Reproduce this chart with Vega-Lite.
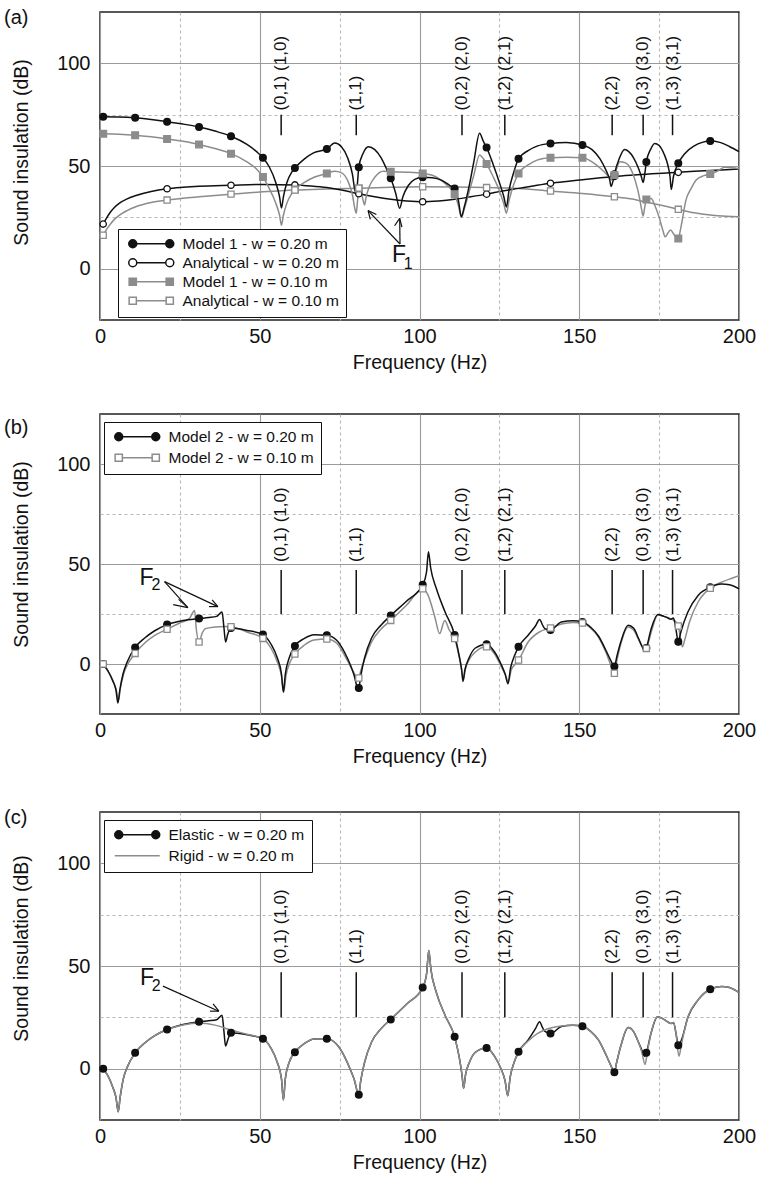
{
  "$schema": "https://vega.github.io/schema/vega-lite/v6.json",
  "padding": {"top": 7, "left": 3, "right": 5, "bottom": 2},
  "spacing": 40,
  "resolve": {"scale": {"stroke": "independent", "fill": "independent", "shape": "independent"}, "legend": {"stroke": "independent", "fill": "independent", "shape": "independent"}},
  "config": {
    "font": "Liberation Sans",
    "view": {"stroke": "#222", "strokeWidth": 1.5},
    "axis": {"labelFont": "Liberation Sans", "titleFont": "Liberation Sans", "labelFontSize": 20, "titleFontSize": 19.5, "titleFontWeight": "normal", "labelColor": "#111", "titleColor": "#111", "domain": false, "ticks": false, "tickSize": 0, "gridOpacity": 1, "gridWidth": 1.1, "labelFlush": false, "labelOverlap": false},
    "title": {"font": "Liberation Sans", "fontSize": 20, "fontWeight": "normal", "color": "#111", "anchor": "start", "frame": "bounds"}
  },
  "datasets": {
    "modes_a": [
      {"f": 56.7, "label": "(0,1) (1,0)", "lo": 65, "hi": 75, "ty": 77},
      {"f": 80.2, "label": "(1,1)", "lo": 65, "hi": 75, "ty": 77},
      {"f": 113.3, "label": "(0,2) (2,0)", "lo": 65, "hi": 75, "ty": 77},
      {"f": 126.7, "label": "(1,2) (2,1)", "lo": 65, "hi": 75, "ty": 77},
      {"f": 160.3, "label": "(2,2)", "lo": 65, "hi": 75, "ty": 77},
      {"f": 170, "label": "(0,3) (3,0)", "lo": 65, "hi": 75, "ty": 77},
      {"f": 179.2, "label": "(1,3) (3,1)", "lo": 65, "hi": 75, "ty": 77}
    ],
    "modes_bc": [
      {"f": 56.7, "label": "(0,1) (1,0)", "lo": 25, "hi": 47, "ty": 51},
      {"f": 80.2, "label": "(1,1)", "lo": 25, "hi": 47, "ty": 51},
      {"f": 113.3, "label": "(0,2) (2,0)", "lo": 25, "hi": 47, "ty": 51},
      {"f": 126.7, "label": "(1,2) (2,1)", "lo": 25, "hi": 47, "ty": 51},
      {"f": 160.3, "label": "(2,2)", "lo": 25, "hi": 47, "ty": 51},
      {"f": 170, "label": "(0,3) (3,0)", "lo": 25, "hi": 47, "ty": 51},
      {"f": 179.2, "label": "(1,3) (3,1)", "lo": 25, "hi": 47, "ty": 51}
    ],
    "a_curves": [
      {"s":"Analytical - w = 0.10 m","f":1,"d":16.3},{"s":"Analytical - w = 0.10 m","f":2,"d":19},{"s":"Analytical - w = 0.10 m","f":3,"d":21.2},{"s":"Analytical - w = 0.10 m","f":4.5,"d":24},{"s":"Analytical - w = 0.10 m","f":6,"d":26},{"s":"Analytical - w = 0.10 m","f":8.5,"d":28.3},{"s":"Analytical - w = 0.10 m","f":11,"d":30},{"s":"Analytical - w = 0.10 m","f":16,"d":32.2},{"s":"Analytical - w = 0.10 m","f":21,"d":33.4},{"s":"Analytical - w = 0.10 m","f":26,"d":34.3},{"s":"Analytical - w = 0.10 m","f":31,"d":35},{"s":"Analytical - w = 0.10 m","f":41,"d":36.3},{"s":"Analytical - w = 0.10 m","f":51,"d":37.4},{"s":"Analytical - w = 0.10 m","f":61,"d":38.3},{"s":"Analytical - w = 0.10 m","f":71,"d":38.8},{"s":"Analytical - w = 0.10 m","f":81,"d":39.2},{"s":"Analytical - w = 0.10 m","f":91,"d":39.6},{"s":"Analytical - w = 0.10 m","f":101,"d":39.9},{"s":"Analytical - w = 0.10 m","f":111,"d":39.8},{"s":"Analytical - w = 0.10 m","f":121,"d":39.5},{"s":"Analytical - w = 0.10 m","f":131,"d":39.1},{"s":"Analytical - w = 0.10 m","f":141,"d":37.8},{"s":"Analytical - w = 0.10 m","f":151,"d":36.6},{"s":"Analytical - w = 0.10 m","f":161,"d":35},{"s":"Analytical - w = 0.10 m","f":166,"d":34},{"s":"Analytical - w = 0.10 m","f":171,"d":32.4},{"s":"Analytical - w = 0.10 m","f":176,"d":30.8},{"s":"Analytical - w = 0.10 m","f":181,"d":28.9},{"s":"Analytical - w = 0.10 m","f":186,"d":27.2},{"s":"Analytical - w = 0.10 m","f":191,"d":26.1},{"s":"Analytical - w = 0.10 m","f":196,"d":25.5},{"s":"Analytical - w = 0.10 m","f":200,"d":25.3},
      {"s":"Analytical - w = 0.20 m","f":1,"d":21.7},{"s":"Analytical - w = 0.20 m","f":2,"d":24.5},{"s":"Analytical - w = 0.20 m","f":3,"d":27},{"s":"Analytical - w = 0.20 m","f":4.5,"d":29.8},{"s":"Analytical - w = 0.20 m","f":6,"d":31.8},{"s":"Analytical - w = 0.20 m","f":8.5,"d":34},{"s":"Analytical - w = 0.20 m","f":11,"d":35.5},{"s":"Analytical - w = 0.20 m","f":16,"d":37.6},{"s":"Analytical - w = 0.20 m","f":21,"d":38.9},{"s":"Analytical - w = 0.20 m","f":26,"d":39.6},{"s":"Analytical - w = 0.20 m","f":31,"d":40.1},{"s":"Analytical - w = 0.20 m","f":41,"d":40.6},{"s":"Analytical - w = 0.20 m","f":51,"d":41},{"s":"Analytical - w = 0.20 m","f":61,"d":40.8},{"s":"Analytical - w = 0.20 m","f":66,"d":40.3},{"s":"Analytical - w = 0.20 m","f":71,"d":39.5},{"s":"Analytical - w = 0.20 m","f":76,"d":38.2},{"s":"Analytical - w = 0.20 m","f":81,"d":36.5},{"s":"Analytical - w = 0.20 m","f":86,"d":35},{"s":"Analytical - w = 0.20 m","f":91,"d":33.8},{"s":"Analytical - w = 0.20 m","f":96,"d":33},{"s":"Analytical - w = 0.20 m","f":101,"d":32.6},{"s":"Analytical - w = 0.20 m","f":106,"d":33},{"s":"Analytical - w = 0.20 m","f":111,"d":33.8},{"s":"Analytical - w = 0.20 m","f":116,"d":35},{"s":"Analytical - w = 0.20 m","f":121,"d":36.3},{"s":"Analytical - w = 0.20 m","f":126,"d":37.8},{"s":"Analytical - w = 0.20 m","f":131,"d":39.1},{"s":"Analytical - w = 0.20 m","f":136,"d":40.4},{"s":"Analytical - w = 0.20 m","f":141,"d":41.6},{"s":"Analytical - w = 0.20 m","f":146,"d":42.5},{"s":"Analytical - w = 0.20 m","f":151,"d":43.3},{"s":"Analytical - w = 0.20 m","f":156,"d":44.1},{"s":"Analytical - w = 0.20 m","f":161,"d":44.9},{"s":"Analytical - w = 0.20 m","f":166,"d":45.5},{"s":"Analytical - w = 0.20 m","f":171,"d":46},{"s":"Analytical - w = 0.20 m","f":176,"d":46.5},{"s":"Analytical - w = 0.20 m","f":181,"d":46.9},{"s":"Analytical - w = 0.20 m","f":186,"d":47.4},{"s":"Analytical - w = 0.20 m","f":191,"d":47.8},{"s":"Analytical - w = 0.20 m","f":196,"d":48.2},{"s":"Analytical - w = 0.20 m","f":200,"d":48.5},
      {"s":"Model 1 - w = 0.10 m","f":1,"d":65.7},{"s":"Model 1 - w = 0.10 m","f":6,"d":65.5},{"s":"Model 1 - w = 0.10 m","f":11,"d":65},{"s":"Model 1 - w = 0.10 m","f":16,"d":64.2},{"s":"Model 1 - w = 0.10 m","f":21,"d":63.2},{"s":"Model 1 - w = 0.10 m","f":26,"d":62},{"s":"Model 1 - w = 0.10 m","f":31,"d":60.5},{"s":"Model 1 - w = 0.10 m","f":36,"d":58.5},{"s":"Model 1 - w = 0.10 m","f":41,"d":56},{"s":"Model 1 - w = 0.10 m","f":46,"d":52},{"s":"Model 1 - w = 0.10 m","f":49,"d":48.5},{"s":"Model 1 - w = 0.10 m","f":51,"d":44.6},{"s":"Model 1 - w = 0.10 m","f":53,"d":39},{"s":"Model 1 - w = 0.10 m","f":55,"d":32},{"s":"Model 1 - w = 0.10 m","f":56.2,"d":26},{"s":"Model 1 - w = 0.10 m","f":56.8,"d":21.2},{"s":"Model 1 - w = 0.10 m","f":57.4,"d":26},{"s":"Model 1 - w = 0.10 m","f":58.5,"d":32},{"s":"Model 1 - w = 0.10 m","f":60,"d":36.5},{"s":"Model 1 - w = 0.10 m","f":61,"d":38.5},{"s":"Model 1 - w = 0.10 m","f":64,"d":42},{"s":"Model 1 - w = 0.10 m","f":67,"d":44.5},{"s":"Model 1 - w = 0.10 m","f":71,"d":46.4},{"s":"Model 1 - w = 0.10 m","f":73.5,"d":47.5},{"s":"Model 1 - w = 0.10 m","f":75.5,"d":46.8},{"s":"Model 1 - w = 0.10 m","f":77.5,"d":43},{"s":"Model 1 - w = 0.10 m","f":79,"d":36},{"s":"Model 1 - w = 0.10 m","f":79.8,"d":29},{"s":"Model 1 - w = 0.10 m","f":80.2,"d":27},{"s":"Model 1 - w = 0.10 m","f":80.6,"d":33},{"s":"Model 1 - w = 0.10 m","f":81,"d":39},{"s":"Model 1 - w = 0.10 m","f":81.8,"d":37},{"s":"Model 1 - w = 0.10 m","f":82.4,"d":33},{"s":"Model 1 - w = 0.10 m","f":82.8,"d":31},{"s":"Model 1 - w = 0.10 m","f":83.3,"d":35},{"s":"Model 1 - w = 0.10 m","f":84.3,"d":40},{"s":"Model 1 - w = 0.10 m","f":86,"d":44.5},{"s":"Model 1 - w = 0.10 m","f":88.6,"d":47.5},{"s":"Model 1 - w = 0.10 m","f":91,"d":47.2},{"s":"Model 1 - w = 0.10 m","f":96,"d":47},{"s":"Model 1 - w = 0.10 m","f":101,"d":46.4},{"s":"Model 1 - w = 0.10 m","f":104,"d":45.5},{"s":"Model 1 - w = 0.10 m","f":106,"d":44},{"s":"Model 1 - w = 0.10 m","f":108,"d":41.5},{"s":"Model 1 - w = 0.10 m","f":110,"d":38.5},{"s":"Model 1 - w = 0.10 m","f":111,"d":36.3},{"s":"Model 1 - w = 0.10 m","f":112.2,"d":30.5},{"s":"Model 1 - w = 0.10 m","f":113.1,"d":25},{"s":"Model 1 - w = 0.10 m","f":114,"d":29},{"s":"Model 1 - w = 0.10 m","f":115.3,"d":36},{"s":"Model 1 - w = 0.10 m","f":117,"d":45.5},{"s":"Model 1 - w = 0.10 m","f":118.8,"d":55.4},{"s":"Model 1 - w = 0.10 m","f":120,"d":53.5},{"s":"Model 1 - w = 0.10 m","f":121,"d":51},{"s":"Model 1 - w = 0.10 m","f":123,"d":45},{"s":"Model 1 - w = 0.10 m","f":125,"d":38},{"s":"Model 1 - w = 0.10 m","f":126.4,"d":31.5},{"s":"Model 1 - w = 0.10 m","f":127.2,"d":27},{"s":"Model 1 - w = 0.10 m","f":128,"d":33},{"s":"Model 1 - w = 0.10 m","f":129.5,"d":41},{"s":"Model 1 - w = 0.10 m","f":131,"d":46.4},{"s":"Model 1 - w = 0.10 m","f":134,"d":50.5},{"s":"Model 1 - w = 0.10 m","f":137,"d":53},{"s":"Model 1 - w = 0.10 m","f":141,"d":54},{"s":"Model 1 - w = 0.10 m","f":146,"d":54.3},{"s":"Model 1 - w = 0.10 m","f":151,"d":54},{"s":"Model 1 - w = 0.10 m","f":154,"d":52},{"s":"Model 1 - w = 0.10 m","f":156.5,"d":49},{"s":"Model 1 - w = 0.10 m","f":158.5,"d":46},{"s":"Model 1 - w = 0.10 m","f":159.6,"d":44},{"s":"Model 1 - w = 0.10 m","f":160,"d":43.2},{"s":"Model 1 - w = 0.10 m","f":160.5,"d":44.2},{"s":"Model 1 - w = 0.10 m","f":161,"d":45.6},{"s":"Model 1 - w = 0.10 m","f":162.7,"d":52.1},{"s":"Model 1 - w = 0.10 m","f":164.5,"d":51.5},{"s":"Model 1 - w = 0.10 m","f":166,"d":49},{"s":"Model 1 - w = 0.10 m","f":167.5,"d":43},{"s":"Model 1 - w = 0.10 m","f":168.8,"d":35},{"s":"Model 1 - w = 0.10 m","f":169.5,"d":29},{"s":"Model 1 - w = 0.10 m","f":170,"d":25.6},{"s":"Model 1 - w = 0.10 m","f":170.5,"d":30},{"s":"Model 1 - w = 0.10 m","f":171,"d":33.7},{"s":"Model 1 - w = 0.10 m","f":172.5,"d":34.2},{"s":"Model 1 - w = 0.10 m","f":173.6,"d":31},{"s":"Model 1 - w = 0.10 m","f":175,"d":25},{"s":"Model 1 - w = 0.10 m","f":176.2,"d":18.5},{"s":"Model 1 - w = 0.10 m","f":176.9,"d":15.5},{"s":"Model 1 - w = 0.10 m","f":177.8,"d":17.5},{"s":"Model 1 - w = 0.10 m","f":178.6,"d":18.8},{"s":"Model 1 - w = 0.10 m","f":179.5,"d":17},{"s":"Model 1 - w = 0.10 m","f":180.4,"d":15},{"s":"Model 1 - w = 0.10 m","f":181,"d":14.7},{"s":"Model 1 - w = 0.10 m","f":181.8,"d":20},{"s":"Model 1 - w = 0.10 m","f":183.4,"d":33.4},{"s":"Model 1 - w = 0.10 m","f":185,"d":39},{"s":"Model 1 - w = 0.10 m","f":186.6,"d":43.2},{"s":"Model 1 - w = 0.10 m","f":189,"d":45.3},{"s":"Model 1 - w = 0.10 m","f":191,"d":46.1},{"s":"Model 1 - w = 0.10 m","f":193,"d":47.3},{"s":"Model 1 - w = 0.10 m","f":195.5,"d":49.4},{"s":"Model 1 - w = 0.10 m","f":198,"d":49.2},{"s":"Model 1 - w = 0.10 m","f":200,"d":48.7},
      {"s":"Model 1 - w = 0.20 m","f":1,"d":74},{"s":"Model 1 - w = 0.20 m","f":6,"d":73.9},{"s":"Model 1 - w = 0.20 m","f":11,"d":73.5},{"s":"Model 1 - w = 0.20 m","f":16,"d":72.7},{"s":"Model 1 - w = 0.20 m","f":21,"d":71.5},{"s":"Model 1 - w = 0.20 m","f":26,"d":70.4},{"s":"Model 1 - w = 0.20 m","f":31,"d":69},{"s":"Model 1 - w = 0.20 m","f":36,"d":67},{"s":"Model 1 - w = 0.20 m","f":41,"d":64.5},{"s":"Model 1 - w = 0.20 m","f":46,"d":60.5},{"s":"Model 1 - w = 0.20 m","f":49,"d":57},{"s":"Model 1 - w = 0.20 m","f":51,"d":54},{"s":"Model 1 - w = 0.20 m","f":53,"d":49.5},{"s":"Model 1 - w = 0.20 m","f":55,"d":42},{"s":"Model 1 - w = 0.20 m","f":56.2,"d":35},{"s":"Model 1 - w = 0.20 m","f":56.8,"d":29.5},{"s":"Model 1 - w = 0.20 m","f":57.4,"d":35},{"s":"Model 1 - w = 0.20 m","f":58.5,"d":42},{"s":"Model 1 - w = 0.20 m","f":60,"d":47},{"s":"Model 1 - w = 0.20 m","f":61,"d":49},{"s":"Model 1 - w = 0.20 m","f":64,"d":53.5},{"s":"Model 1 - w = 0.20 m","f":67,"d":56.5},{"s":"Model 1 - w = 0.20 m","f":71,"d":58.3},{"s":"Model 1 - w = 0.20 m","f":73.5,"d":61.2},{"s":"Model 1 - w = 0.20 m","f":75.5,"d":59.5},{"s":"Model 1 - w = 0.20 m","f":77.5,"d":54},{"s":"Model 1 - w = 0.20 m","f":79,"d":46},{"s":"Model 1 - w = 0.20 m","f":79.8,"d":38},{"s":"Model 1 - w = 0.20 m","f":80.2,"d":36.5},{"s":"Model 1 - w = 0.20 m","f":80.6,"d":42},{"s":"Model 1 - w = 0.20 m","f":81,"d":49.4},{"s":"Model 1 - w = 0.20 m","f":82.3,"d":56},{"s":"Model 1 - w = 0.20 m","f":84,"d":59.4},{"s":"Model 1 - w = 0.20 m","f":86,"d":58},{"s":"Model 1 - w = 0.20 m","f":88,"d":54},{"s":"Model 1 - w = 0.20 m","f":90,"d":47.5},{"s":"Model 1 - w = 0.20 m","f":91,"d":44},{"s":"Model 1 - w = 0.20 m","f":92.5,"d":37},{"s":"Model 1 - w = 0.20 m","f":93.8,"d":29.4},{"s":"Model 1 - w = 0.20 m","f":94.8,"d":35},{"s":"Model 1 - w = 0.20 m","f":96.5,"d":40.5},{"s":"Model 1 - w = 0.20 m","f":98.5,"d":43.5},{"s":"Model 1 - w = 0.20 m","f":101,"d":44.5},{"s":"Model 1 - w = 0.20 m","f":104,"d":44.3},{"s":"Model 1 - w = 0.20 m","f":107,"d":43},{"s":"Model 1 - w = 0.20 m","f":109.5,"d":40.5},{"s":"Model 1 - w = 0.20 m","f":111,"d":39},{"s":"Model 1 - w = 0.20 m","f":112.2,"d":33},{"s":"Model 1 - w = 0.20 m","f":113.1,"d":25.3},{"s":"Model 1 - w = 0.20 m","f":114,"d":30},{"s":"Model 1 - w = 0.20 m","f":115.5,"d":40},{"s":"Model 1 - w = 0.20 m","f":117,"d":52},{"s":"Model 1 - w = 0.20 m","f":118.8,"d":66},{"s":"Model 1 - w = 0.20 m","f":120,"d":62},{"s":"Model 1 - w = 0.20 m","f":121,"d":59},{"s":"Model 1 - w = 0.20 m","f":123,"d":51},{"s":"Model 1 - w = 0.20 m","f":125,"d":42},{"s":"Model 1 - w = 0.20 m","f":126.4,"d":35},{"s":"Model 1 - w = 0.20 m","f":127.2,"d":30},{"s":"Model 1 - w = 0.20 m","f":128,"d":38},{"s":"Model 1 - w = 0.20 m","f":129.5,"d":47},{"s":"Model 1 - w = 0.20 m","f":131,"d":53.5},{"s":"Model 1 - w = 0.20 m","f":134,"d":57.5},{"s":"Model 1 - w = 0.20 m","f":137,"d":59.8},{"s":"Model 1 - w = 0.20 m","f":141,"d":61},{"s":"Model 1 - w = 0.20 m","f":146,"d":61.5},{"s":"Model 1 - w = 0.20 m","f":151,"d":60.2},{"s":"Model 1 - w = 0.20 m","f":154,"d":58},{"s":"Model 1 - w = 0.20 m","f":156.5,"d":53.5},{"s":"Model 1 - w = 0.20 m","f":158.5,"d":47.5},{"s":"Model 1 - w = 0.20 m","f":159.5,"d":43.5},{"s":"Model 1 - w = 0.20 m","f":160,"d":40},{"s":"Model 1 - w = 0.20 m","f":160.6,"d":43},{"s":"Model 1 - w = 0.20 m","f":161,"d":46},{"s":"Model 1 - w = 0.20 m","f":162.5,"d":53.5},{"s":"Model 1 - w = 0.20 m","f":164.2,"d":58},{"s":"Model 1 - w = 0.20 m","f":165.5,"d":57},{"s":"Model 1 - w = 0.20 m","f":167,"d":54},{"s":"Model 1 - w = 0.20 m","f":168.5,"d":49},{"s":"Model 1 - w = 0.20 m","f":169.4,"d":45},{"s":"Model 1 - w = 0.20 m","f":170,"d":42},{"s":"Model 1 - w = 0.20 m","f":170.5,"d":46},{"s":"Model 1 - w = 0.20 m","f":171,"d":52},{"s":"Model 1 - w = 0.20 m","f":172.3,"d":58},{"s":"Model 1 - w = 0.20 m","f":173.6,"d":61},{"s":"Model 1 - w = 0.20 m","f":175,"d":60},{"s":"Model 1 - w = 0.20 m","f":176.5,"d":56},{"s":"Model 1 - w = 0.20 m","f":177.8,"d":50},{"s":"Model 1 - w = 0.20 m","f":178.4,"d":45},{"s":"Model 1 - w = 0.20 m","f":178.8,"d":38.6},{"s":"Model 1 - w = 0.20 m","f":179.5,"d":45},{"s":"Model 1 - w = 0.20 m","f":181,"d":51.3},{"s":"Model 1 - w = 0.20 m","f":183,"d":56},{"s":"Model 1 - w = 0.20 m","f":186,"d":59.8},{"s":"Model 1 - w = 0.20 m","f":188.5,"d":61.5},{"s":"Model 1 - w = 0.20 m","f":191,"d":62.2},{"s":"Model 1 - w = 0.20 m","f":194,"d":61.5},{"s":"Model 1 - w = 0.20 m","f":197,"d":59.5},{"s":"Model 1 - w = 0.20 m","f":200,"d":57}
    ],
    "a_marks": [
      {"s":"Model 1 - w = 0.20 m","f":1,"d":74},{"s":"Model 1 - w = 0.20 m","f":11,"d":73.5},{"s":"Model 1 - w = 0.20 m","f":21,"d":71.5},{"s":"Model 1 - w = 0.20 m","f":31,"d":69},{"s":"Model 1 - w = 0.20 m","f":41,"d":64.5},{"s":"Model 1 - w = 0.20 m","f":51,"d":54},{"s":"Model 1 - w = 0.20 m","f":61,"d":49},{"s":"Model 1 - w = 0.20 m","f":71,"d":58.3},{"s":"Model 1 - w = 0.20 m","f":81,"d":49.4},{"s":"Model 1 - w = 0.20 m","f":91,"d":44},{"s":"Model 1 - w = 0.20 m","f":101,"d":44.5},{"s":"Model 1 - w = 0.20 m","f":111,"d":39},{"s":"Model 1 - w = 0.20 m","f":121,"d":59},{"s":"Model 1 - w = 0.20 m","f":131,"d":53.5},{"s":"Model 1 - w = 0.20 m","f":141,"d":61},{"s":"Model 1 - w = 0.20 m","f":151,"d":60.2},{"s":"Model 1 - w = 0.20 m","f":161,"d":46},{"s":"Model 1 - w = 0.20 m","f":171,"d":52},{"s":"Model 1 - w = 0.20 m","f":181,"d":51.3},{"s":"Model 1 - w = 0.20 m","f":191,"d":62.2},
      {"s":"Analytical - w = 0.20 m","f":1,"d":21.7},{"s":"Analytical - w = 0.20 m","f":21,"d":38.9},{"s":"Analytical - w = 0.20 m","f":41,"d":40.6},{"s":"Analytical - w = 0.20 m","f":61,"d":40.8},{"s":"Analytical - w = 0.20 m","f":81,"d":36.5},{"s":"Analytical - w = 0.20 m","f":101,"d":32.6},{"s":"Analytical - w = 0.20 m","f":121,"d":36.3},{"s":"Analytical - w = 0.20 m","f":141,"d":41.6},{"s":"Analytical - w = 0.20 m","f":161,"d":44.9},{"s":"Analytical - w = 0.20 m","f":181,"d":46.9},
      {"s":"Model 1 - w = 0.10 m","f":1,"d":65.7},{"s":"Model 1 - w = 0.10 m","f":11,"d":65},{"s":"Model 1 - w = 0.10 m","f":21,"d":63.2},{"s":"Model 1 - w = 0.10 m","f":31,"d":60.5},{"s":"Model 1 - w = 0.10 m","f":41,"d":56},{"s":"Model 1 - w = 0.10 m","f":51,"d":44.6},{"s":"Model 1 - w = 0.10 m","f":61,"d":38.5},{"s":"Model 1 - w = 0.10 m","f":71,"d":46.4},{"s":"Model 1 - w = 0.10 m","f":81,"d":39},{"s":"Model 1 - w = 0.10 m","f":91,"d":47.2},{"s":"Model 1 - w = 0.10 m","f":101,"d":46.4},{"s":"Model 1 - w = 0.10 m","f":111,"d":36.3},{"s":"Model 1 - w = 0.10 m","f":121,"d":51},{"s":"Model 1 - w = 0.10 m","f":131,"d":46.4},{"s":"Model 1 - w = 0.10 m","f":141,"d":54},{"s":"Model 1 - w = 0.10 m","f":151,"d":54},{"s":"Model 1 - w = 0.10 m","f":161,"d":45.6},{"s":"Model 1 - w = 0.10 m","f":171,"d":33.7},{"s":"Model 1 - w = 0.10 m","f":181,"d":14.7},{"s":"Model 1 - w = 0.10 m","f":191,"d":46.1},
      {"s":"Analytical - w = 0.10 m","f":1,"d":16.3},{"s":"Analytical - w = 0.10 m","f":21,"d":33.4},{"s":"Analytical - w = 0.10 m","f":41,"d":36.3},{"s":"Analytical - w = 0.10 m","f":61,"d":38.3},{"s":"Analytical - w = 0.10 m","f":81,"d":39.2},{"s":"Analytical - w = 0.10 m","f":101,"d":39.9},{"s":"Analytical - w = 0.10 m","f":121,"d":39.5},{"s":"Analytical - w = 0.10 m","f":141,"d":37.8},{"s":"Analytical - w = 0.10 m","f":161,"d":35},{"s":"Analytical - w = 0.10 m","f":181,"d":28.9}
    ],
    "b_curves": [
      {"s":"Model 2 - w = 0.10 m","f":1,"d":0},{"s":"Model 2 - w = 0.10 m","f":2.5,"d":-3.5},{"s":"Model 2 - w = 0.10 m","f":4,"d":-8},{"s":"Model 2 - w = 0.10 m","f":5,"d":-12.5},{"s":"Model 2 - w = 0.10 m","f":5.8,"d":-18},{"s":"Model 2 - w = 0.10 m","f":6.4,"d":-12},{"s":"Model 2 - w = 0.10 m","f":7.4,"d":-5},{"s":"Model 2 - w = 0.10 m","f":8.7,"d":0},{"s":"Model 2 - w = 0.10 m","f":11,"d":5.3},{"s":"Model 2 - w = 0.10 m","f":14,"d":10.5},{"s":"Model 2 - w = 0.10 m","f":17,"d":14.2},{"s":"Model 2 - w = 0.10 m","f":21,"d":17.4},{"s":"Model 2 - w = 0.10 m","f":25,"d":20.5},{"s":"Model 2 - w = 0.10 m","f":28,"d":22.8},{"s":"Model 2 - w = 0.10 m","f":29.6,"d":26.8},{"s":"Model 2 - w = 0.10 m","f":30.1,"d":18},{"s":"Model 2 - w = 0.10 m","f":31,"d":11},{"s":"Model 2 - w = 0.10 m","f":32,"d":15.5},{"s":"Model 2 - w = 0.10 m","f":33,"d":17.7},{"s":"Model 2 - w = 0.10 m","f":36,"d":18.5},{"s":"Model 2 - w = 0.10 m","f":39,"d":18.8},{"s":"Model 2 - w = 0.10 m","f":41,"d":18.6},{"s":"Model 2 - w = 0.10 m","f":46,"d":16},{"s":"Model 2 - w = 0.10 m","f":51,"d":12.8},{"s":"Model 2 - w = 0.10 m","f":53.5,"d":8},{"s":"Model 2 - w = 0.10 m","f":55.5,"d":1},{"s":"Model 2 - w = 0.10 m","f":56.8,"d":-6},{"s":"Model 2 - w = 0.10 m","f":57.5,"d":-14},{"s":"Model 2 - w = 0.10 m","f":58.2,"d":-6},{"s":"Model 2 - w = 0.10 m","f":59.5,"d":1},{"s":"Model 2 - w = 0.10 m","f":61,"d":5},{"s":"Model 2 - w = 0.10 m","f":64,"d":9.5},{"s":"Model 2 - w = 0.10 m","f":67,"d":12},{"s":"Model 2 - w = 0.10 m","f":71,"d":12.5},{"s":"Model 2 - w = 0.10 m","f":74,"d":10.5},{"s":"Model 2 - w = 0.10 m","f":76.5,"d":4.5},{"s":"Model 2 - w = 0.10 m","f":78.5,"d":-1.5},{"s":"Model 2 - w = 0.10 m","f":79.8,"d":-5.5},{"s":"Model 2 - w = 0.10 m","f":80.5,"d":-8},{"s":"Model 2 - w = 0.10 m","f":81,"d":-7},{"s":"Model 2 - w = 0.10 m","f":81.7,"d":-3},{"s":"Model 2 - w = 0.10 m","f":83,"d":3},{"s":"Model 2 - w = 0.10 m","f":85,"d":11},{"s":"Model 2 - w = 0.10 m","f":88,"d":17.5},{"s":"Model 2 - w = 0.10 m","f":91,"d":21.8},{"s":"Model 2 - w = 0.10 m","f":96,"d":29.5},{"s":"Model 2 - w = 0.10 m","f":101,"d":37.6},{"s":"Model 2 - w = 0.10 m","f":102.7,"d":34.3},{"s":"Model 2 - w = 0.10 m","f":104.8,"d":23.5},{"s":"Model 2 - w = 0.10 m","f":106.3,"d":15.2},{"s":"Model 2 - w = 0.10 m","f":107.9,"d":21.8},{"s":"Model 2 - w = 0.10 m","f":109.3,"d":17},{"s":"Model 2 - w = 0.10 m","f":111,"d":12.7},{"s":"Model 2 - w = 0.10 m","f":112.5,"d":3},{"s":"Model 2 - w = 0.10 m","f":113.2,"d":-3},{"s":"Model 2 - w = 0.10 m","f":113.7,"d":-8},{"s":"Model 2 - w = 0.10 m","f":114.3,"d":-3},{"s":"Model 2 - w = 0.10 m","f":115.5,"d":2},{"s":"Model 2 - w = 0.10 m","f":117.5,"d":6},{"s":"Model 2 - w = 0.10 m","f":121,"d":8.6},{"s":"Model 2 - w = 0.10 m","f":123.5,"d":5},{"s":"Model 2 - w = 0.10 m","f":125.5,"d":-1},{"s":"Model 2 - w = 0.10 m","f":126.9,"d":-5.5},{"s":"Model 2 - w = 0.10 m","f":127.8,"d":-9},{"s":"Model 2 - w = 0.10 m","f":128.7,"d":-3},{"s":"Model 2 - w = 0.10 m","f":130,"d":0},{"s":"Model 2 - w = 0.10 m","f":131,"d":2},{"s":"Model 2 - w = 0.10 m","f":134,"d":11},{"s":"Model 2 - w = 0.10 m","f":137.5,"d":16},{"s":"Model 2 - w = 0.10 m","f":141,"d":18},{"s":"Model 2 - w = 0.10 m","f":144.4,"d":20},{"s":"Model 2 - w = 0.10 m","f":148,"d":20.8},{"s":"Model 2 - w = 0.10 m","f":151,"d":20.5},{"s":"Model 2 - w = 0.10 m","f":153.5,"d":18},{"s":"Model 2 - w = 0.10 m","f":156,"d":13.5},{"s":"Model 2 - w = 0.10 m","f":158.3,"d":6},{"s":"Model 2 - w = 0.10 m","f":160,"d":-1},{"s":"Model 2 - w = 0.10 m","f":161,"d":-4.6},{"s":"Model 2 - w = 0.10 m","f":161.8,"d":2},{"s":"Model 2 - w = 0.10 m","f":163,"d":10},{"s":"Model 2 - w = 0.10 m","f":165.3,"d":18.5},{"s":"Model 2 - w = 0.10 m","f":167,"d":17},{"s":"Model 2 - w = 0.10 m","f":168.5,"d":12.5},{"s":"Model 2 - w = 0.10 m","f":169.8,"d":8.5},{"s":"Model 2 - w = 0.10 m","f":171,"d":7.8},{"s":"Model 2 - w = 0.10 m","f":171.7,"d":11},{"s":"Model 2 - w = 0.10 m","f":172.8,"d":17.5},{"s":"Model 2 - w = 0.10 m","f":174.6,"d":24.5},{"s":"Model 2 - w = 0.10 m","f":176.5,"d":23.8},{"s":"Model 2 - w = 0.10 m","f":178,"d":23},{"s":"Model 2 - w = 0.10 m","f":178.6,"d":22.5},{"s":"Model 2 - w = 0.10 m","f":179.5,"d":22},{"s":"Model 2 - w = 0.10 m","f":180.5,"d":20.5},{"s":"Model 2 - w = 0.10 m","f":181,"d":19},{"s":"Model 2 - w = 0.10 m","f":181.7,"d":13},{"s":"Model 2 - w = 0.10 m","f":182.3,"d":8.6},{"s":"Model 2 - w = 0.10 m","f":183,"d":12},{"s":"Model 2 - w = 0.10 m","f":184.5,"d":21},{"s":"Model 2 - w = 0.10 m","f":187.2,"d":31},{"s":"Model 2 - w = 0.10 m","f":191,"d":37.9},{"s":"Model 2 - w = 0.10 m","f":195,"d":41.2},{"s":"Model 2 - w = 0.10 m","f":198,"d":43},{"s":"Model 2 - w = 0.10 m","f":200,"d":44.2},
      {"s":"Model 2 - w = 0.20 m","f":1,"d":0},{"s":"Model 2 - w = 0.20 m","f":2.5,"d":-3.5},{"s":"Model 2 - w = 0.20 m","f":4,"d":-8.5},{"s":"Model 2 - w = 0.20 m","f":5,"d":-13},{"s":"Model 2 - w = 0.20 m","f":5.6,"d":-19.5},{"s":"Model 2 - w = 0.20 m","f":6.2,"d":-13},{"s":"Model 2 - w = 0.20 m","f":7.2,"d":-5},{"s":"Model 2 - w = 0.20 m","f":8.5,"d":1},{"s":"Model 2 - w = 0.20 m","f":11,"d":8.3},{"s":"Model 2 - w = 0.20 m","f":14,"d":13},{"s":"Model 2 - w = 0.20 m","f":17,"d":16.5},{"s":"Model 2 - w = 0.20 m","f":21,"d":19.7},{"s":"Model 2 - w = 0.20 m","f":26,"d":21.7},{"s":"Model 2 - w = 0.20 m","f":31,"d":22.7},{"s":"Model 2 - w = 0.20 m","f":34,"d":23.2},{"s":"Model 2 - w = 0.20 m","f":36.5,"d":23.8},{"s":"Model 2 - w = 0.20 m","f":38.2,"d":26},{"s":"Model 2 - w = 0.20 m","f":38.8,"d":18},{"s":"Model 2 - w = 0.20 m","f":39.3,"d":11},{"s":"Model 2 - w = 0.20 m","f":40,"d":15},{"s":"Model 2 - w = 0.20 m","f":41,"d":18},{"s":"Model 2 - w = 0.20 m","f":46,"d":16.8},{"s":"Model 2 - w = 0.20 m","f":51,"d":14.7},{"s":"Model 2 - w = 0.20 m","f":53.5,"d":10},{"s":"Model 2 - w = 0.20 m","f":55.5,"d":3},{"s":"Model 2 - w = 0.20 m","f":56.8,"d":-5},{"s":"Model 2 - w = 0.20 m","f":57.4,"d":-14},{"s":"Model 2 - w = 0.20 m","f":58,"d":-5},{"s":"Model 2 - w = 0.20 m","f":59.2,"d":3},{"s":"Model 2 - w = 0.20 m","f":61,"d":9},{"s":"Model 2 - w = 0.20 m","f":64,"d":12.8},{"s":"Model 2 - w = 0.20 m","f":67,"d":14.6},{"s":"Model 2 - w = 0.20 m","f":71,"d":14.4},{"s":"Model 2 - w = 0.20 m","f":74,"d":12},{"s":"Model 2 - w = 0.20 m","f":76.5,"d":6},{"s":"Model 2 - w = 0.20 m","f":78.5,"d":-1},{"s":"Model 2 - w = 0.20 m","f":79.6,"d":-6},{"s":"Model 2 - w = 0.20 m","f":80.4,"d":-11},{"s":"Model 2 - w = 0.20 m","f":81,"d":-12},{"s":"Model 2 - w = 0.20 m","f":81.6,"d":-6},{"s":"Model 2 - w = 0.20 m","f":82.8,"d":3},{"s":"Model 2 - w = 0.20 m","f":85,"d":13},{"s":"Model 2 - w = 0.20 m","f":88,"d":19.5},{"s":"Model 2 - w = 0.20 m","f":91,"d":24.3},{"s":"Model 2 - w = 0.20 m","f":96,"d":31.5},{"s":"Model 2 - w = 0.20 m","f":101,"d":39.6},{"s":"Model 2 - w = 0.20 m","f":102.2,"d":46},{"s":"Model 2 - w = 0.20 m","f":102.8,"d":56.1},{"s":"Model 2 - w = 0.20 m","f":103.5,"d":48},{"s":"Model 2 - w = 0.20 m","f":105.3,"d":37.6},{"s":"Model 2 - w = 0.20 m","f":108,"d":26},{"s":"Model 2 - w = 0.20 m","f":111,"d":14.5},{"s":"Model 2 - w = 0.20 m","f":112.3,"d":5},{"s":"Model 2 - w = 0.20 m","f":113.2,"d":-3},{"s":"Model 2 - w = 0.20 m","f":113.6,"d":-8.7},{"s":"Model 2 - w = 0.20 m","f":114.2,"d":-3},{"s":"Model 2 - w = 0.20 m","f":115.5,"d":3},{"s":"Model 2 - w = 0.20 m","f":117.5,"d":8},{"s":"Model 2 - w = 0.20 m","f":121,"d":9.9},{"s":"Model 2 - w = 0.20 m","f":123.5,"d":6},{"s":"Model 2 - w = 0.20 m","f":125.5,"d":0},{"s":"Model 2 - w = 0.20 m","f":126.8,"d":-5},{"s":"Model 2 - w = 0.20 m","f":127.7,"d":-9.9},{"s":"Model 2 - w = 0.20 m","f":128.5,"d":-2},{"s":"Model 2 - w = 0.20 m","f":129.7,"d":4},{"s":"Model 2 - w = 0.20 m","f":131,"d":8.6},{"s":"Model 2 - w = 0.20 m","f":134,"d":14.4},{"s":"Model 2 - w = 0.20 m","f":136.3,"d":19},{"s":"Model 2 - w = 0.20 m","f":137.6,"d":22.3},{"s":"Model 2 - w = 0.20 m","f":138.5,"d":19.5},{"s":"Model 2 - w = 0.20 m","f":139.2,"d":17.7},{"s":"Model 2 - w = 0.20 m","f":141,"d":17},{"s":"Model 2 - w = 0.20 m","f":144.4,"d":21},{"s":"Model 2 - w = 0.20 m","f":148,"d":21.6},{"s":"Model 2 - w = 0.20 m","f":151,"d":21},{"s":"Model 2 - w = 0.20 m","f":153.5,"d":18.5},{"s":"Model 2 - w = 0.20 m","f":156,"d":14},{"s":"Model 2 - w = 0.20 m","f":158.3,"d":7},{"s":"Model 2 - w = 0.20 m","f":159.8,"d":2},{"s":"Model 2 - w = 0.20 m","f":161,"d":-1.3},{"s":"Model 2 - w = 0.20 m","f":161.8,"d":4},{"s":"Model 2 - w = 0.20 m","f":163,"d":11},{"s":"Model 2 - w = 0.20 m","f":165.3,"d":19.4},{"s":"Model 2 - w = 0.20 m","f":167,"d":18},{"s":"Model 2 - w = 0.20 m","f":168.5,"d":13},{"s":"Model 2 - w = 0.20 m","f":169.6,"d":9},{"s":"Model 2 - w = 0.20 m","f":170.6,"d":6.5},{"s":"Model 2 - w = 0.20 m","f":171,"d":8},{"s":"Model 2 - w = 0.20 m","f":172.5,"d":17.5},{"s":"Model 2 - w = 0.20 m","f":174.6,"d":24.7},{"s":"Model 2 - w = 0.20 m","f":176.5,"d":23.8},{"s":"Model 2 - w = 0.20 m","f":177.8,"d":23},{"s":"Model 2 - w = 0.20 m","f":178.6,"d":22.4},{"s":"Model 2 - w = 0.20 m","f":179.5,"d":23},{"s":"Model 2 - w = 0.20 m","f":180.2,"d":18},{"s":"Model 2 - w = 0.20 m","f":181,"d":11.1},{"s":"Model 2 - w = 0.20 m","f":181.8,"d":16},{"s":"Model 2 - w = 0.20 m","f":184,"d":26},{"s":"Model 2 - w = 0.20 m","f":187.2,"d":34.3},{"s":"Model 2 - w = 0.20 m","f":191,"d":38.4},{"s":"Model 2 - w = 0.20 m","f":194.5,"d":40},{"s":"Model 2 - w = 0.20 m","f":197,"d":39.6},{"s":"Model 2 - w = 0.20 m","f":200,"d":37.6}
    ],
    "b_marks": [
      {"s":"Model 2 - w = 0.20 m","f":1,"d":0},{"s":"Model 2 - w = 0.20 m","f":11,"d":8.3},{"s":"Model 2 - w = 0.20 m","f":21,"d":19.7},{"s":"Model 2 - w = 0.20 m","f":31,"d":22.7},{"s":"Model 2 - w = 0.20 m","f":41,"d":18},{"s":"Model 2 - w = 0.20 m","f":51,"d":14.7},{"s":"Model 2 - w = 0.20 m","f":61,"d":9},{"s":"Model 2 - w = 0.20 m","f":71,"d":14.4},{"s":"Model 2 - w = 0.20 m","f":81,"d":-12},{"s":"Model 2 - w = 0.20 m","f":91,"d":24.3},{"s":"Model 2 - w = 0.20 m","f":101,"d":39.6},{"s":"Model 2 - w = 0.20 m","f":111,"d":14.5},{"s":"Model 2 - w = 0.20 m","f":121,"d":9.9},{"s":"Model 2 - w = 0.20 m","f":131,"d":8.6},{"s":"Model 2 - w = 0.20 m","f":141,"d":17},{"s":"Model 2 - w = 0.20 m","f":151,"d":21},{"s":"Model 2 - w = 0.20 m","f":161,"d":-1.3},{"s":"Model 2 - w = 0.20 m","f":171,"d":8},{"s":"Model 2 - w = 0.20 m","f":181,"d":11.1},{"s":"Model 2 - w = 0.20 m","f":191,"d":38.4},
      {"s":"Model 2 - w = 0.10 m","f":1,"d":0},{"s":"Model 2 - w = 0.10 m","f":11,"d":5.3},{"s":"Model 2 - w = 0.10 m","f":21,"d":17.4},{"s":"Model 2 - w = 0.10 m","f":31,"d":11},{"s":"Model 2 - w = 0.10 m","f":41,"d":18.6},{"s":"Model 2 - w = 0.10 m","f":51,"d":12.8},{"s":"Model 2 - w = 0.10 m","f":61,"d":5},{"s":"Model 2 - w = 0.10 m","f":71,"d":12.5},{"s":"Model 2 - w = 0.10 m","f":81,"d":-7},{"s":"Model 2 - w = 0.10 m","f":91,"d":21.8},{"s":"Model 2 - w = 0.10 m","f":101,"d":37.6},{"s":"Model 2 - w = 0.10 m","f":111,"d":12.7},{"s":"Model 2 - w = 0.10 m","f":121,"d":8.6},{"s":"Model 2 - w = 0.10 m","f":131,"d":2},{"s":"Model 2 - w = 0.10 m","f":141,"d":18},{"s":"Model 2 - w = 0.10 m","f":151,"d":20.5},{"s":"Model 2 - w = 0.10 m","f":161,"d":-4.6},{"s":"Model 2 - w = 0.10 m","f":171,"d":7.8},{"s":"Model 2 - w = 0.10 m","f":181,"d":19},{"s":"Model 2 - w = 0.10 m","f":191,"d":37.9}
    ],
    "c_curves": [
      {"s":"Elastic - w = 0.20 m","f":1,"d":0},{"s":"Elastic - w = 0.20 m","f":2.5,"d":-3.5},{"s":"Elastic - w = 0.20 m","f":4,"d":-9},{"s":"Elastic - w = 0.20 m","f":5,"d":-14},{"s":"Elastic - w = 0.20 m","f":5.7,"d":-21},{"s":"Elastic - w = 0.20 m","f":6.3,"d":-14},{"s":"Elastic - w = 0.20 m","f":7.3,"d":-5},{"s":"Elastic - w = 0.20 m","f":8.6,"d":1},{"s":"Elastic - w = 0.20 m","f":11,"d":7.7},{"s":"Elastic - w = 0.20 m","f":14,"d":12.5},{"s":"Elastic - w = 0.20 m","f":17,"d":16},{"s":"Elastic - w = 0.20 m","f":21,"d":19.1},{"s":"Elastic - w = 0.20 m","f":26,"d":21.5},{"s":"Elastic - w = 0.20 m","f":31,"d":22.9},{"s":"Elastic - w = 0.20 m","f":34,"d":23.3},{"s":"Elastic - w = 0.20 m","f":36.5,"d":23.8},{"s":"Elastic - w = 0.20 m","f":38.2,"d":26},{"s":"Elastic - w = 0.20 m","f":38.8,"d":18},{"s":"Elastic - w = 0.20 m","f":39.3,"d":11},{"s":"Elastic - w = 0.20 m","f":40,"d":14},{"s":"Elastic - w = 0.20 m","f":41,"d":17.5},{"s":"Elastic - w = 0.20 m","f":46,"d":16.5},{"s":"Elastic - w = 0.20 m","f":51,"d":14.6},{"s":"Elastic - w = 0.20 m","f":53.5,"d":10},{"s":"Elastic - w = 0.20 m","f":55.5,"d":3},{"s":"Elastic - w = 0.20 m","f":56.8,"d":-5},{"s":"Elastic - w = 0.20 m","f":57.4,"d":-15.2},{"s":"Elastic - w = 0.20 m","f":58,"d":-5},{"s":"Elastic - w = 0.20 m","f":59.2,"d":3},{"s":"Elastic - w = 0.20 m","f":61,"d":8},{"s":"Elastic - w = 0.20 m","f":64,"d":12.3},{"s":"Elastic - w = 0.20 m","f":67,"d":14.5},{"s":"Elastic - w = 0.20 m","f":71,"d":14.6},{"s":"Elastic - w = 0.20 m","f":74,"d":12},{"s":"Elastic - w = 0.20 m","f":76.5,"d":6},{"s":"Elastic - w = 0.20 m","f":78.5,"d":-1},{"s":"Elastic - w = 0.20 m","f":79.7,"d":-6},{"s":"Elastic - w = 0.20 m","f":80.5,"d":-11},{"s":"Elastic - w = 0.20 m","f":81,"d":-12.7},{"s":"Elastic - w = 0.20 m","f":81.6,"d":-6},{"s":"Elastic - w = 0.20 m","f":82.8,"d":3},{"s":"Elastic - w = 0.20 m","f":85,"d":13},{"s":"Elastic - w = 0.20 m","f":88,"d":19.5},{"s":"Elastic - w = 0.20 m","f":91,"d":24},{"s":"Elastic - w = 0.20 m","f":96,"d":31.5},{"s":"Elastic - w = 0.20 m","f":101,"d":39.5},{"s":"Elastic - w = 0.20 m","f":102.2,"d":46},{"s":"Elastic - w = 0.20 m","f":102.9,"d":57.5},{"s":"Elastic - w = 0.20 m","f":103.6,"d":48},{"s":"Elastic - w = 0.20 m","f":105.3,"d":37},{"s":"Elastic - w = 0.20 m","f":108,"d":26},{"s":"Elastic - w = 0.20 m","f":111,"d":15.5},{"s":"Elastic - w = 0.20 m","f":112.5,"d":5},{"s":"Elastic - w = 0.20 m","f":113.3,"d":-3},{"s":"Elastic - w = 0.20 m","f":113.8,"d":-9.5},{"s":"Elastic - w = 0.20 m","f":114.4,"d":-3},{"s":"Elastic - w = 0.20 m","f":115.6,"d":3},{"s":"Elastic - w = 0.20 m","f":117.5,"d":8},{"s":"Elastic - w = 0.20 m","f":121,"d":10.1},{"s":"Elastic - w = 0.20 m","f":123.5,"d":6},{"s":"Elastic - w = 0.20 m","f":125.5,"d":0},{"s":"Elastic - w = 0.20 m","f":126.8,"d":-6},{"s":"Elastic - w = 0.20 m","f":127.6,"d":-13.2},{"s":"Elastic - w = 0.20 m","f":128.4,"d":-4},{"s":"Elastic - w = 0.20 m","f":129.6,"d":3},{"s":"Elastic - w = 0.20 m","f":131,"d":8.2},{"s":"Elastic - w = 0.20 m","f":134,"d":14},{"s":"Elastic - w = 0.20 m","f":136.3,"d":19.5},{"s":"Elastic - w = 0.20 m","f":137.6,"d":22.9},{"s":"Elastic - w = 0.20 m","f":138.5,"d":20},{"s":"Elastic - w = 0.20 m","f":139.2,"d":18.3},{"s":"Elastic - w = 0.20 m","f":141,"d":17.1},{"s":"Elastic - w = 0.20 m","f":144.4,"d":20.5},{"s":"Elastic - w = 0.20 m","f":148,"d":21.2},{"s":"Elastic - w = 0.20 m","f":151,"d":20.7},{"s":"Elastic - w = 0.20 m","f":153.5,"d":18.3},{"s":"Elastic - w = 0.20 m","f":156,"d":14},{"s":"Elastic - w = 0.20 m","f":158.3,"d":7},{"s":"Elastic - w = 0.20 m","f":159.9,"d":1.5},{"s":"Elastic - w = 0.20 m","f":161,"d":-1.8},{"s":"Elastic - w = 0.20 m","f":161.7,"d":3},{"s":"Elastic - w = 0.20 m","f":163,"d":11},{"s":"Elastic - w = 0.20 m","f":165.3,"d":20},{"s":"Elastic - w = 0.20 m","f":167,"d":18},{"s":"Elastic - w = 0.20 m","f":168.5,"d":13},{"s":"Elastic - w = 0.20 m","f":169.6,"d":9},{"s":"Elastic - w = 0.20 m","f":170.5,"d":6},{"s":"Elastic - w = 0.20 m","f":171,"d":7.7},{"s":"Elastic - w = 0.20 m","f":172.5,"d":17.5},{"s":"Elastic - w = 0.20 m","f":174.5,"d":25.3},{"s":"Elastic - w = 0.20 m","f":176.5,"d":24},{"s":"Elastic - w = 0.20 m","f":178,"d":22.5},{"s":"Elastic - w = 0.20 m","f":178.8,"d":22},{"s":"Elastic - w = 0.20 m","f":179.5,"d":22.5},{"s":"Elastic - w = 0.20 m","f":180.3,"d":17},{"s":"Elastic - w = 0.20 m","f":181,"d":11.4},{"s":"Elastic - w = 0.20 m","f":182,"d":14},{"s":"Elastic - w = 0.20 m","f":184,"d":25},{"s":"Elastic - w = 0.20 m","f":187.2,"d":33.5},{"s":"Elastic - w = 0.20 m","f":191,"d":38.7},{"s":"Elastic - w = 0.20 m","f":194.5,"d":40},{"s":"Elastic - w = 0.20 m","f":197,"d":39.5},{"s":"Elastic - w = 0.20 m","f":200,"d":37},
      {"s":"Rigid - w = 0.20 m","f":1,"d":0},{"s":"Rigid - w = 0.20 m","f":2.5,"d":-3.5},{"s":"Rigid - w = 0.20 m","f":4,"d":-9},{"s":"Rigid - w = 0.20 m","f":5,"d":-14},{"s":"Rigid - w = 0.20 m","f":5.7,"d":-21},{"s":"Rigid - w = 0.20 m","f":6.3,"d":-14},{"s":"Rigid - w = 0.20 m","f":7.3,"d":-5},{"s":"Rigid - w = 0.20 m","f":8.6,"d":1},{"s":"Rigid - w = 0.20 m","f":11,"d":7.7},{"s":"Rigid - w = 0.20 m","f":14,"d":12.5},{"s":"Rigid - w = 0.20 m","f":17,"d":16},{"s":"Rigid - w = 0.20 m","f":21,"d":19.1},{"s":"Rigid - w = 0.20 m","f":26,"d":21.3},{"s":"Rigid - w = 0.20 m","f":31,"d":22.2},{"s":"Rigid - w = 0.20 m","f":36,"d":21.2},{"s":"Rigid - w = 0.20 m","f":41,"d":18.8},{"s":"Rigid - w = 0.20 m","f":46,"d":16.8},{"s":"Rigid - w = 0.20 m","f":51,"d":14.6},{"s":"Rigid - w = 0.20 m","f":53.5,"d":10},{"s":"Rigid - w = 0.20 m","f":55.5,"d":3},{"s":"Rigid - w = 0.20 m","f":56.8,"d":-5},{"s":"Rigid - w = 0.20 m","f":57.4,"d":-15.2},{"s":"Rigid - w = 0.20 m","f":58,"d":-5},{"s":"Rigid - w = 0.20 m","f":59.2,"d":3},{"s":"Rigid - w = 0.20 m","f":61,"d":8},{"s":"Rigid - w = 0.20 m","f":64,"d":12.3},{"s":"Rigid - w = 0.20 m","f":67,"d":14.5},{"s":"Rigid - w = 0.20 m","f":71,"d":14.6},{"s":"Rigid - w = 0.20 m","f":74,"d":12},{"s":"Rigid - w = 0.20 m","f":76.5,"d":6},{"s":"Rigid - w = 0.20 m","f":78.5,"d":-1},{"s":"Rigid - w = 0.20 m","f":79.7,"d":-6},{"s":"Rigid - w = 0.20 m","f":80.5,"d":-11},{"s":"Rigid - w = 0.20 m","f":81,"d":-12.7},{"s":"Rigid - w = 0.20 m","f":81.6,"d":-6},{"s":"Rigid - w = 0.20 m","f":82.8,"d":3},{"s":"Rigid - w = 0.20 m","f":85,"d":13},{"s":"Rigid - w = 0.20 m","f":88,"d":19.5},{"s":"Rigid - w = 0.20 m","f":91,"d":24},{"s":"Rigid - w = 0.20 m","f":96,"d":31.5},{"s":"Rigid - w = 0.20 m","f":101,"d":39.5},{"s":"Rigid - w = 0.20 m","f":102.2,"d":46},{"s":"Rigid - w = 0.20 m","f":102.9,"d":57.5},{"s":"Rigid - w = 0.20 m","f":103.6,"d":48},{"s":"Rigid - w = 0.20 m","f":105.3,"d":37},{"s":"Rigid - w = 0.20 m","f":108,"d":26},{"s":"Rigid - w = 0.20 m","f":111,"d":15.5},{"s":"Rigid - w = 0.20 m","f":112.5,"d":5},{"s":"Rigid - w = 0.20 m","f":113.3,"d":-3},{"s":"Rigid - w = 0.20 m","f":113.8,"d":-9.5},{"s":"Rigid - w = 0.20 m","f":114.4,"d":-3},{"s":"Rigid - w = 0.20 m","f":115.6,"d":3},{"s":"Rigid - w = 0.20 m","f":117.5,"d":8},{"s":"Rigid - w = 0.20 m","f":121,"d":10.1},{"s":"Rigid - w = 0.20 m","f":123.5,"d":6},{"s":"Rigid - w = 0.20 m","f":125.5,"d":0},{"s":"Rigid - w = 0.20 m","f":126.8,"d":-6},{"s":"Rigid - w = 0.20 m","f":127.6,"d":-13.2},{"s":"Rigid - w = 0.20 m","f":128.4,"d":-4},{"s":"Rigid - w = 0.20 m","f":129.6,"d":3},{"s":"Rigid - w = 0.20 m","f":131,"d":8.2},{"s":"Rigid - w = 0.20 m","f":134,"d":13.5},{"s":"Rigid - w = 0.20 m","f":137,"d":17.2},{"s":"Rigid - w = 0.20 m","f":141,"d":19.8},{"s":"Rigid - w = 0.20 m","f":144.4,"d":20.8},{"s":"Rigid - w = 0.20 m","f":148,"d":21.2},{"s":"Rigid - w = 0.20 m","f":151,"d":20.7},{"s":"Rigid - w = 0.20 m","f":153.5,"d":18.3},{"s":"Rigid - w = 0.20 m","f":156,"d":14},{"s":"Rigid - w = 0.20 m","f":158.3,"d":7},{"s":"Rigid - w = 0.20 m","f":159.9,"d":1.5},{"s":"Rigid - w = 0.20 m","f":161,"d":-1.8},{"s":"Rigid - w = 0.20 m","f":161.7,"d":3},{"s":"Rigid - w = 0.20 m","f":163,"d":11},{"s":"Rigid - w = 0.20 m","f":165.3,"d":20},{"s":"Rigid - w = 0.20 m","f":167,"d":18},{"s":"Rigid - w = 0.20 m","f":168.5,"d":13},{"s":"Rigid - w = 0.20 m","f":169.6,"d":8},{"s":"Rigid - w = 0.20 m","f":170.6,"d":2},{"s":"Rigid - w = 0.20 m","f":171.3,"d":8},{"s":"Rigid - w = 0.20 m","f":172.5,"d":17.5},{"s":"Rigid - w = 0.20 m","f":174.5,"d":25.3},{"s":"Rigid - w = 0.20 m","f":176.5,"d":24},{"s":"Rigid - w = 0.20 m","f":178,"d":22.5},{"s":"Rigid - w = 0.20 m","f":178.8,"d":22},{"s":"Rigid - w = 0.20 m","f":179.5,"d":22.5},{"s":"Rigid - w = 0.20 m","f":180.3,"d":17},{"s":"Rigid - w = 0.20 m","f":181.2,"d":6},{"s":"Rigid - w = 0.20 m","f":182,"d":12},{"s":"Rigid - w = 0.20 m","f":184,"d":25},{"s":"Rigid - w = 0.20 m","f":187.2,"d":33.5},{"s":"Rigid - w = 0.20 m","f":191,"d":38.7},{"s":"Rigid - w = 0.20 m","f":194.5,"d":40},{"s":"Rigid - w = 0.20 m","f":197,"d":39.5},{"s":"Rigid - w = 0.20 m","f":200,"d":37}
    ],
    "c_marks": [
      {"s":"Elastic - w = 0.20 m","f":1,"d":0},{"s":"Elastic - w = 0.20 m","f":11,"d":7.7},{"s":"Elastic - w = 0.20 m","f":21,"d":19.1},{"s":"Elastic - w = 0.20 m","f":31,"d":22.9},{"s":"Elastic - w = 0.20 m","f":41,"d":17.5},{"s":"Elastic - w = 0.20 m","f":51,"d":14.6},{"s":"Elastic - w = 0.20 m","f":61,"d":8},{"s":"Elastic - w = 0.20 m","f":71,"d":14.6},{"s":"Elastic - w = 0.20 m","f":81,"d":-12.7},{"s":"Elastic - w = 0.20 m","f":91,"d":24},{"s":"Elastic - w = 0.20 m","f":101,"d":39.5},{"s":"Elastic - w = 0.20 m","f":111,"d":15.5},{"s":"Elastic - w = 0.20 m","f":121,"d":10.1},{"s":"Elastic - w = 0.20 m","f":131,"d":8.2},{"s":"Elastic - w = 0.20 m","f":141,"d":17.1},{"s":"Elastic - w = 0.20 m","f":151,"d":20.7},{"s":"Elastic - w = 0.20 m","f":161,"d":-1.8},{"s":"Elastic - w = 0.20 m","f":171,"d":7.7},{"s":"Elastic - w = 0.20 m","f":181,"d":11.4},{"s":"Elastic - w = 0.20 m","f":191,"d":38.7}
    ]
  },
  "vconcat": [
    {
      "width": 639, "height": 308,
      "title": {"text": "(a)", "dx": -7, "dy": 20},
      "encoding": {
        "x": {"field": "f", "type": "quantitative", "scale": {"domain": [0, 200], "nice": false, "zero": false}, "axis": {"values": [0,25,50,75,100,125,150,175,200], "labelExpr": "datum.value % 50 == 0 ? datum.label : ''", "grid": true, "gridDash": {"condition": {"test": "datum.value % 50 != 0", "value": [3,3]}, "value": []}, "gridColor": {"condition": {"test": "datum.value % 50 != 0", "value": "#b8b8b8"}, "value": "#9a9a9a"}, "title": "Frequency (Hz)", "labelPadding": 6, "titlePadding": 7}},
        "y": {"field": "d", "type": "quantitative", "scale": {"domain": [-25, 125], "nice": false, "zero": false}, "axis": {"values": [0,25,50,75,100], "labelExpr": "datum.value % 50 == 0 ? datum.label : ''", "grid": true, "gridDash": {"condition": {"test": "datum.value % 50 != 0", "value": [3,3]}, "value": []}, "gridColor": {"condition": {"test": "datum.value % 50 != 0", "value": "#b8b8b8"}, "value": "#9a9a9a"}, "title": "Sound insulation (dB)", "labelPadding": 10, "titleX": -69, "titleY": 140}}
      },
      "layer": [
        {"data": {"name": "a_curves"}, "mark": {"type": "line", "interpolate": "monotone", "strokeWidth": 1.5},
         "encoding": {
           "stroke": {"field": "s", "type": "nominal",
             "scale": {"domain": ["Model 1 - w = 0.20 m", "Analytical - w = 0.20 m", "Model 1 - w = 0.10 m", "Analytical - w = 0.10 m"], "range": ["#111111", "#111111", "#8c8c8c", "#8c8c8c"]},
             "legend": {"orient": "none", "legendX": 18, "legendY": 217, "title": null, "labelFontSize": 15.5, "labelFont": "Liberation Sans", "labelColor": "#111", "labelLimit": 400, "strokeColor": "#111", "fillColor": "white", "padding": 7, "rowPadding": 2, "symbolSize": 64, "symbolStrokeWidth": 1.5, "labelOffset": 42}
           }
         }},
        {"data": {"name": "a_marks"}, "transform": [{"filter": "false"}], "mark": {"type": "point", "filled": true, "opacity": 1, "strokeWidth": 1.5},
         "encoding": {
           "shape": {"field": "s", "type": "nominal", "scale": {"domain": ["Model 1 - w = 0.20 m", "Analytical - w = 0.20 m", "Model 1 - w = 0.10 m", "Analytical - w = 0.10 m"], "range": ["M1,0L8.25,0M-1,0A1,1,0,1,1,1,0A1,1,0,1,1,-1,0ZM8.25,0A1,1,0,1,1,10.25,0A1,1,0,1,1,8.25,0Z", "M1,0L8.25,0M-1,0A1,1,0,1,1,1,0A1,1,0,1,1,-1,0ZM8.25,0A1,1,0,1,1,10.25,0A1,1,0,1,1,8.25,0Z", "M0.9,0L8.35,0M-0.9,-0.9H0.9V0.9H-0.9ZM8.35,-0.9H10.15V0.9H8.35Z", "M0.9,0L8.35,0M-0.9,-0.9H0.9V0.9H-0.9ZM8.35,-0.9H10.15V0.9H8.35Z"]}},
           "fill": {"field": "s", "type": "nominal", "scale": {"domain": ["Model 1 - w = 0.20 m", "Analytical - w = 0.20 m", "Model 1 - w = 0.10 m", "Analytical - w = 0.10 m"], "range": ["#111111", "white", "#8c8c8c", "white"]}},
           "stroke": {"field": "s", "type": "nominal"}
         }},
        {"data": {"name": "a_marks"}, "transform": [{"filter": "datum.s == 'Model 1 - w = 0.20 m'"}], "mark": {"type": "point", "shape": "circle", "filled": true, "fill": "#111111", "stroke": "#111111", "strokeWidth": 1.3, "size": 45, "opacity": 1}},
        {"data": {"name": "a_marks"}, "transform": [{"filter": "datum.s == 'Analytical - w = 0.20 m'"}], "mark": {"type": "point", "shape": "circle", "filled": true, "fill": "white", "stroke": "#111111", "strokeWidth": 1.3, "size": 40, "opacity": 1}},
        {"data": {"name": "a_marks"}, "transform": [{"filter": "datum.s == 'Model 1 - w = 0.10 m'"}], "mark": {"type": "point", "shape": "square", "filled": true, "fill": "#8c8c8c", "stroke": "#8c8c8c", "strokeWidth": 1.3, "size": 45, "opacity": 1}},
        {"data": {"name": "a_marks"}, "transform": [{"filter": "datum.s == 'Analytical - w = 0.10 m'"}], "mark": {"type": "point", "shape": "square", "filled": true, "fill": "white", "stroke": "#8c8c8c", "strokeWidth": 1.3, "size": 38, "opacity": 1}},
        {"data": {"name": "modes_a"}, "mark": {"type": "rule", "color": "#111", "strokeWidth": 1.5},
         "encoding": {"y": {"field": "lo"}, "y2": {"field": "hi"}}},
        {"data": {"name": "modes_a"}, "mark": {"type": "text", "angle": 270, "align": "left", "baseline": "middle", "fontSize": 17, "color": "#111"},
         "encoding": {"y": {"field": "ty"}, "text": {"field": "label"}}},
        {"data": {"values": [
           {"f": 93.9, "d": 12.0, "f2": 83.9, "d2": 28.3}, {"f": 83.9, "d": 28.3, "f2": 84.6, "d2": 24.0}, {"f": 83.9, "d": 28.3, "f2": 86.5, "d2": 26.4},
           {"f": 93.9, "d": 12.0, "f2": 93.8, "d2": 24.5}, {"f": 93.8, "d": 24.5, "f2": 92.2, "d2": 20.9}, {"f": 93.8, "d": 24.5, "f2": 94.5, "d2": 20.2}]},
         "mark": {"type": "rule", "color": "#111", "strokeWidth": 1.2},
         "encoding": {"x2": {"field": "f2"}, "y2": {"field": "d2"}}},
        {"data": {"values": [{"f": 93.6, "d": 6.6, "t": "F"}]}, "mark": {"type": "text", "fontSize": 23, "align": "center", "baseline": "middle", "color": "#111"},
         "encoding": {"text": {"field": "t"}}},
        {"data": {"values": [{"f": 96.5, "d": 2.3, "t": "1"}]}, "mark": {"type": "text", "fontSize": 16, "align": "center", "baseline": "middle", "color": "#111"},
         "encoding": {"text": {"field": "t"}}}
      ]
    },
    {
      "width": 639, "height": 300,
      "title": {"text": "(b)", "dx": -7, "dy": 28},
      "encoding": {
        "x": {"field": "f", "type": "quantitative", "scale": {"domain": [0, 200], "nice": false, "zero": false}, "axis": {"values": [0,25,50,75,100,125,150,175,200], "labelExpr": "datum.value % 50 == 0 ? datum.label : ''", "grid": true, "gridDash": {"condition": {"test": "datum.value % 50 != 0", "value": [3,3]}, "value": []}, "gridColor": {"condition": {"test": "datum.value % 50 != 0", "value": "#b8b8b8"}, "value": "#9a9a9a"}, "title": "Frequency (Hz)", "labelPadding": 6, "titlePadding": 7}},
        "y": {"field": "d", "type": "quantitative", "scale": {"domain": [-25, 125], "nice": false, "zero": false}, "axis": {"values": [0,25,50,75,100], "labelExpr": "datum.value % 50 == 0 ? datum.label : ''", "grid": true, "gridDash": {"condition": {"test": "datum.value % 50 != 0", "value": [3,3]}, "value": []}, "gridColor": {"condition": {"test": "datum.value % 50 != 0", "value": "#b8b8b8"}, "value": "#9a9a9a"}, "title": "Sound insulation (dB)", "labelPadding": 10, "titleX": -69, "titleY": 140}}
      },
      "layer": [
        {"data": {"name": "b_curves"}, "mark": {"type": "line", "interpolate": "monotone", "strokeWidth": 1.5},
         "encoding": {
           "stroke": {"field": "s", "type": "nominal",
             "scale": {"domain": ["Model 2 - w = 0.20 m", "Model 2 - w = 0.10 m"], "range": ["#111111", "#8c8c8c"]},
             "legend": {"orient": "none", "legendX": 4, "legendY": 8, "title": null, "labelFontSize": 15.5, "labelFont": "Liberation Sans", "labelColor": "#111", "labelLimit": 400, "strokeColor": "#111", "fillColor": "white", "padding": 7, "rowPadding": 4, "symbolSize": 64, "symbolStrokeWidth": 1.5, "labelOffset": 42}
           }
         }},
        {"data": {"name": "b_marks"}, "transform": [{"filter": "false"}], "mark": {"type": "point", "filled": true, "opacity": 1, "strokeWidth": 1.5},
         "encoding": {
           "shape": {"field": "s", "type": "nominal", "scale": {"domain": ["Model 2 - w = 0.20 m", "Model 2 - w = 0.10 m"], "range": ["M1,0L8.25,0M-1,0A1,1,0,1,1,1,0A1,1,0,1,1,-1,0ZM8.25,0A1,1,0,1,1,10.25,0A1,1,0,1,1,8.25,0Z", "M0.9,0L8.35,0M-0.9,-0.9H0.9V0.9H-0.9ZM8.35,-0.9H10.15V0.9H8.35Z"]}},
           "fill": {"field": "s", "type": "nominal", "scale": {"domain": ["Model 2 - w = 0.20 m", "Model 2 - w = 0.10 m"], "range": ["#111111", "white"]}},
           "stroke": {"field": "s", "type": "nominal"}
         }},
        {"data": {"name": "b_marks"}, "transform": [{"filter": "datum.s == 'Model 2 - w = 0.20 m'"}], "mark": {"type": "point", "shape": "circle", "filled": true, "fill": "#111111", "stroke": "#111111", "strokeWidth": 1.3, "size": 45, "opacity": 1}},
        {"data": {"name": "b_marks"}, "transform": [{"filter": "datum.s == 'Model 2 - w = 0.10 m'"}], "mark": {"type": "point", "shape": "square", "filled": true, "fill": "white", "stroke": "#8c8c8c", "strokeWidth": 1.3, "size": 38, "opacity": 1}},
        {"data": {"name": "modes_bc"}, "mark": {"type": "rule", "color": "#111", "strokeWidth": 1.5},
         "encoding": {"y": {"field": "lo"}, "y2": {"field": "hi"}}},
        {"data": {"name": "modes_bc"}, "mark": {"type": "text", "angle": 270, "align": "left", "baseline": "middle", "fontSize": 17, "color": "#111"},
         "encoding": {"y": {"field": "ty"}, "text": {"field": "label"}}},
        {"data": {"values": [
           {"f": 20.2, "d": 41.2, "f2": 27.5, "d2": 28.2}, {"f": 27.5, "d": 28.2, "f2": 24.6, "d2": 32.3}, {"f": 27.5, "d": 28.2, "f2": 22.9, "d2": 29.7},
           {"f": 20.2, "d": 41.2, "f2": 36.9, "d2": 28.7}, {"f": 36.9, "d": 28.7, "f2": 35.1, "d2": 32.1}, {"f": 36.9, "d": 28.7, "f2": 34.1, "d2": 28.7}]},
         "mark": {"type": "rule", "color": "#111", "strokeWidth": 1.2},
         "encoding": {"x2": {"field": "f2"}, "y2": {"field": "d2"}}},
        {"data": {"values": [{"f": 14.6, "d": 43.2, "t": "F"}]}, "mark": {"type": "text", "fontSize": 23, "align": "center", "baseline": "middle", "color": "#111"},
         "encoding": {"text": {"field": "t"}}},
        {"data": {"values": [{"f": 17.5, "d": 39.4, "t": "2"}]}, "mark": {"type": "text", "fontSize": 16, "align": "center", "baseline": "middle", "color": "#111"},
         "encoding": {"text": {"field": "t"}}}
      ]
    },
    {
      "width": 639, "height": 308,
      "title": {"text": "(c)", "dx": -7, "dy": 20},
      "encoding": {
        "x": {"field": "f", "type": "quantitative", "scale": {"domain": [0, 200], "nice": false, "zero": false}, "axis": {"values": [0,25,50,75,100,125,150,175,200], "labelExpr": "datum.value % 50 == 0 ? datum.label : ''", "grid": true, "gridDash": {"condition": {"test": "datum.value % 50 != 0", "value": [3,3]}, "value": []}, "gridColor": {"condition": {"test": "datum.value % 50 != 0", "value": "#b8b8b8"}, "value": "#9a9a9a"}, "title": "Frequency (Hz)", "labelPadding": 6, "titlePadding": 7}},
        "y": {"field": "d", "type": "quantitative", "scale": {"domain": [-25, 125], "nice": false, "zero": false}, "axis": {"values": [0,25,50,75,100], "labelExpr": "datum.value % 50 == 0 ? datum.label : ''", "grid": true, "gridDash": {"condition": {"test": "datum.value % 50 != 0", "value": [3,3]}, "value": []}, "gridColor": {"condition": {"test": "datum.value % 50 != 0", "value": "#b8b8b8"}, "value": "#9a9a9a"}, "title": "Sound insulation (dB)", "labelPadding": 10, "titleX": -69, "titleY": 136}}
      },
      "layer": [
        {"data": {"name": "c_curves"}, "mark": {"type": "line", "interpolate": "monotone", "strokeWidth": 1.5},
         "encoding": {
           "stroke": {"field": "s", "type": "nominal",
             "scale": {"domain": ["Elastic - w = 0.20 m", "Rigid - w = 0.20 m"], "range": ["#111111", "#8c8c8c"]},
             "legend": {"orient": "none", "legendX": 4, "legendY": 8, "title": null, "labelFontSize": 15.5, "labelFont": "Liberation Sans", "labelColor": "#111", "labelLimit": 400, "strokeColor": "#111", "fillColor": "white", "padding": 7, "rowPadding": 4, "symbolSize": 64, "symbolStrokeWidth": 1.5, "labelOffset": 42}
           }
         }},
        {"data": {"name": "c_marks"}, "transform": [{"filter": "false"}], "mark": {"type": "point", "filled": true, "opacity": 1, "strokeWidth": 1.5},
         "encoding": {
           "shape": {"field": "s", "type": "nominal", "scale": {"domain": ["Elastic - w = 0.20 m", "Rigid - w = 0.20 m"], "range": ["M1,0L8.25,0M-1,0A1,1,0,1,1,1,0A1,1,0,1,1,-1,0ZM8.25,0A1,1,0,1,1,10.25,0A1,1,0,1,1,8.25,0Z", "M-1,0L10.25,0"]}},
           "fill": {"field": "s", "type": "nominal", "scale": {"domain": ["Elastic - w = 0.20 m", "Rigid - w = 0.20 m"], "range": ["#111111", "transparent"]}},
           "stroke": {"field": "s", "type": "nominal"}
         }},
        {"data": {"name": "c_marks"}, "mark": {"type": "point", "filled": true, "shape": "circle", "strokeWidth": 1.3, "size": 45, "opacity": 1, "fill": "#111111", "stroke": "#111111"}},
        {"data": {"name": "modes_bc"}, "mark": {"type": "rule", "color": "#111", "strokeWidth": 1.5},
         "encoding": {"y": {"field": "lo"}, "y2": {"field": "hi"}}},
        {"data": {"name": "modes_bc"}, "mark": {"type": "text", "angle": 270, "align": "left", "baseline": "middle", "fontSize": 17, "color": "#111"},
         "encoding": {"y": {"field": "ty"}, "text": {"field": "label"}}},
        {"data": {"values": [
           {"f": 19.7, "d": 40.2, "f2": 37.2, "d2": 28.0}, {"f": 37.2, "d": 28.0, "f2": 35.4, "d2": 31.6}, {"f": 37.2, "d": 28.0, "f2": 34.4, "d2": 28.0}]},
         "mark": {"type": "rule", "color": "#111", "strokeWidth": 1.2},
         "encoding": {"x2": {"field": "f2"}, "y2": {"field": "d2"}}},
        {"data": {"values": [{"f": 14.7, "d": 44.0, "t": "F"}]}, "mark": {"type": "text", "fontSize": 23, "align": "center", "baseline": "middle", "color": "#111"},
         "encoding": {"text": {"field": "t"}}},
        {"data": {"values": [{"f": 17.6, "d": 40.1, "t": "2"}]}, "mark": {"type": "text", "fontSize": 16, "align": "center", "baseline": "middle", "color": "#111"},
         "encoding": {"text": {"field": "t"}}}
      ]
    }
  ]
}
